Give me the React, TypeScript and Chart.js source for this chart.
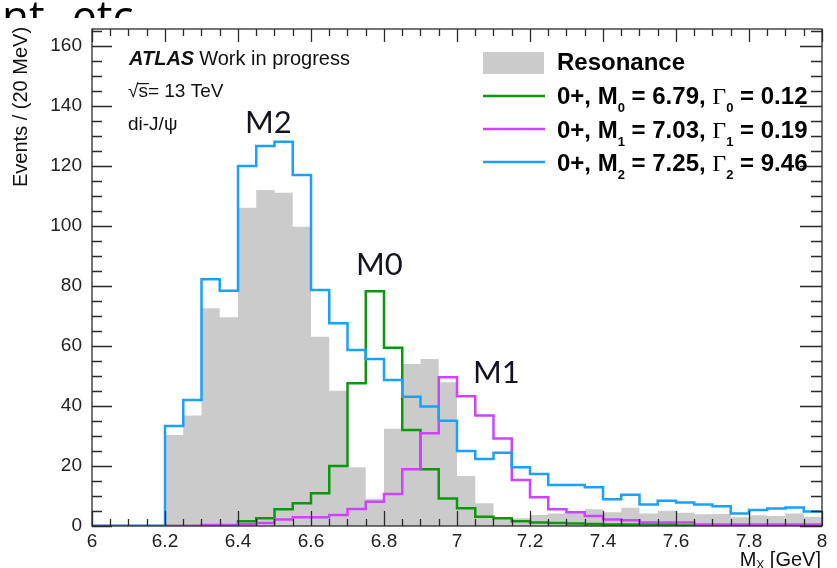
import React, { useEffect, useRef } from "react";
import { Chart, registerables } from "chart.js";

Chart.register(...registerables);

// Bin edges in GeV (40 bins from 6.00 to 8.00)
const binEdges = [
  6.0, 6.05, 6.1, 6.15, 6.2, 6.25, 6.3, 6.35, 6.4, 6.45,
  6.5, 6.55, 6.6, 6.65, 6.7, 6.75, 6.8, 6.85, 6.9, 6.95,
  7.0, 7.05, 7.1, 7.15, 7.2, 7.25, 7.3, 7.35, 7.4, 7.45,
  7.5, 7.55, 7.6, 7.65, 7.7, 7.75, 7.8, 7.85, 7.9, 7.95, 8.0,
];

// Events per bin
const resonance = [
  0, 0, 0, 0, 30.3, 36.8, 72.6, 69.6, 106.1, 112,
  111.1, 99.8, 63.1, 45.1, 19.6, 9.1, 32.4, 54, 55.7, 47.9,
  16.7, 7.6, 2.6, 2.6, 3.7, 4.2, 4.8, 5.6, 4.6, 6.1,
  4.2, 5.1, 4.4, 3.9, 4.0, 2.9, 3.6, 3.3, 4.2, 3.1,
];
const m0 = [
  0, 0, 0, 0, 0, 0, 0, 0, 1.6, 2.6,
  5.6, 7.6, 10.9, 20, 47.6, 78.3, 59.4, 32, 18.9, 9.2,
  5.9, 3.1, 2.6, 1.6, 1.2, 1.0, 0.8, 0.7, 0.5, 0.5,
  0.5, 0.5, 0.2, 0.2, 0.2, 0.2, 0.2, 0.2, 0.2, 0.2,
];
const m1 = [
  0, 0, 0, 0, 0, 0, 0.3, 0.3, 0.6, 1.0,
  2.2, 2.9, 2.9, 3.7, 5.7, 8.1, 10.7, 18.9, 30.9, 49.6,
  43.3, 36.8, 29.2, 15.3, 9.6, 5.6, 4.6, 3.3, 2.2, 1.9,
  1.2, 1.2, 1.2, 0.5, 0.5, 0.5, 0.5, 0.5, 0.5, 0.5,
];
const m2 = [
  0, 0, 0, 0, 33.3, 42, 82.3, 78.4, 120, 126.7,
  128.1, 117, 78.7, 67.6, 58.7, 55.7, 48.7, 43.1, 39.8, 35.1,
  25, 22.3, 24.4, 19.6, 17.3, 13.7, 13.7, 12.9, 8.9, 10.4,
  7.2, 8.4, 7.8, 7.2, 6.6, 4.2, 5.3, 5.8, 6.2, 4.8,
];

const xTicks = [6, 6.2, 6.4, 6.6, 6.8, 7, 7.2, 7.4, 7.6, 7.8, 8];
const yTicks = [0, 20, 40, 60, 80, 100, 120, 140, 160];
const xMinorStep = 0.05;
const yMinorStep = 5;

const legendRows = [
  { sub: "0", mass: "6.79", width: "0.12" },
  { sub: "1", mass: "7.03", width: "0.19" },
  { sub: "2", mass: "7.25", width: "9.46" },
];

const colors = {
  resonance: "#cbcbcb",
  m0: "#0f960f",
  m1: "#cc44ff",
  m2: "#1aa0ff",
};

const SANS = "'Liberation Sans', Arial, sans-serif";

function toSteps(vals: number[]) {
  return binEdges.map((x, i) => ({ x, y: vals[Math.min(i, vals.length - 1)] }));
}

type Part = { t: string; font: string; dy?: number };
function drawRich(ctx: CanvasRenderingContext2D, x: number, y: number, parts: Part[]) {
  let cx = x;
  for (const p of parts) {
    ctx.font = p.font;
    ctx.fillText(p.t, cx, y + (p.dy || 0));
    cx += ctx.measureText(p.t).width;
  }
  return cx;
}

const framePlugin = {
  id: "rootFrame",
  afterDatasetsDraw(chart: any) {
    const { ctx, chartArea: a, scales } = chart;
    const xs = scales.x;
    const ys = scales.y;
    ctx.save();
    ctx.strokeStyle = "#2a2a2a";
    ctx.lineWidth = 1.3;
    ctx.strokeRect(a.left, a.top, a.right - a.left, a.bottom - a.top);
    ctx.beginPath();
    for (let v = 6; v <= 8.0001; v += xMinorStep) {
      const px = Math.round(xs.getPixelForValue(v)) + 0.5;
      const major = Math.abs(v * 5 - Math.round(v * 5)) < 1e-6;
      const lb = major ? 15 : 7;
      const lt = major ? 13 : 7;
      ctx.moveTo(px, a.bottom);
      ctx.lineTo(px, a.bottom - lb);
      ctx.moveTo(px, a.top);
      ctx.lineTo(px, a.top + lt);
    }
    for (let v = 0; v <= ys.max; v += yMinorStep) {
      const py = Math.round(ys.getPixelForValue(v)) + 0.5;
      const major = v % 20 === 0;
      const ll = major ? 20 : 10;
      const lr = major ? 22 : 11;
      ctx.moveTo(a.left, py);
      ctx.lineTo(a.left + ll, py);
      ctx.moveTo(a.right, py);
      ctx.lineTo(a.right - lr, py);
    }
    ctx.stroke();
    ctx.restore();
  },
  afterDraw(chart: any) {
    const { ctx } = chart;
    ctx.save();
    ctx.fillStyle = "#111";
    ctx.textBaseline = "alphabetic";
    ctx.textAlign = "left";

    // slide text clipped at the top
    ctx.save();
    ctx.beginPath();
    ctx.rect(0, 0, 837, 18);
    ctx.clip();
    ctx.fillStyle = "#000";
    ctx.font = "44px 'Open Sans', sans-serif";
    ctx.fillText("nt,", 2, 32);
    ctx.fillText("etc", 72, 32);
    ctx.restore();

    // ATLAS label
    const endA = drawRich(ctx, 129, 65, [{ t: "ATLAS", font: `italic bold 20px ${SANS}` }]);
    drawRich(ctx, endA + 5, 65, [{ t: "Work in progress", font: `20px ${SANS}` }]);
    const sEnd = drawRich(ctx, 128, 97, [{ t: "√", font: `19px ${SANS}` }, { t: "s", font: `19px ${SANS}` }]);
    ctx.font = `19px ${SANS}`;
    const sW = ctx.measureText("s").width;
    ctx.fillRect(sEnd - sW - 1, 83, sW + 2, 1.2);
    drawRich(ctx, sEnd, 97, [{ t: "= 13 TeV", font: `19px ${SANS}` }]);
    drawRich(ctx, 128, 130, [{ t: "di-J/ψ", font: `19px ${SANS}` }]);

    // Legend
    ctx.fillStyle = colors.resonance;
    ctx.fillRect(483, 52, 61, 22);
    const lineCols = [colors.m0, colors.m1, colors.m2];
    const lineYs = [96, 129, 162];
    lineCols.forEach((c, i) => {
      ctx.strokeStyle = c;
      ctx.lineWidth = 2.5;
      ctx.beginPath();
      ctx.moveTo(483, lineYs[i]);
      ctx.lineTo(545, lineYs[i]);
      ctx.stroke();
    });
    ctx.fillStyle = "#000";
    drawRich(ctx, 557, 70, [{ t: "Resonance", font: `bold 24px ${SANS}` }]);
    const B = `bold 24px ${SANS}`;
    const S = `bold 13px ${SANS}`;
    const G = `24px 'Liberation Serif', 'Times New Roman', serif`;
    const baseYs = [104, 137.5, 171];
    legendRows.forEach((r, i) => {
      drawRich(ctx, 557, baseYs[i], [
        { t: "0+, M", font: B },
        { t: r.sub, font: S, dy: 8 },
        { t: " = " + r.mass + ", ", font: B },
        { t: "Γ", font: G },
        { t: r.sub, font: S, dy: 8 },
        { t: " = " + r.width, font: B },
      ]);
    });

    // Axis titles
    ctx.save();
    ctx.translate(27, 187);
    ctx.rotate(-Math.PI / 2);
    ctx.font = `20px ${SANS}`;
    ctx.fillStyle = "#111";
    ctx.fillText("Events / (20 MeV)", 0, 0);
    ctx.restore();

    ctx.fillStyle = "#111";
    ctx.textAlign = "left";
    ctx.font = `20px ${SANS}`;
    const gev = " [GeV]";
    const gW = ctx.measureText(gev).width;
    ctx.font = `12px ${SANS}`;
    const xW = ctx.measureText("X").width;
    ctx.font = `20px ${SANS}`;
    const mW = ctx.measureText("M").width;
    const startX = 821 - gW - xW - mW;
    drawRich(ctx, startX, 566, [
      { t: "M", font: `20px ${SANS}` },
      { t: "X", font: `12px ${SANS}`, dy: 3 },
      { t: gev, font: `20px ${SANS}` },
    ]);

    // Peak annotations
    ctx.fillStyle = "#141420";
    ctx.font = "31px Lato, 'Open Sans', sans-serif";
    ctx.fillText("M2", 245, 133);
    ctx.fillText("M0", 356, 275);
    ctx.fillText("M1", 473, 383);
    ctx.restore();
  },
};

export default function App() {
  const ref = useRef<HTMLCanvasElement | null>(null);
  useEffect(() => {
    if (!ref.current) return;
    const line = (label: string, vals: number[], color: string, order: number) => ({
      label,
      data: toSteps(vals),
      stepped: "before" as const,
      fill: false,
      borderColor: color,
      borderWidth: 2.5,
      pointRadius: 0,
      order,
    });
    const chart = new Chart(ref.current, {
      type: "line",
      data: {
        datasets: [
          {
            label: "Resonance",
            data: toSteps(resonance),
            stepped: "before",
            fill: "origin",
            backgroundColor: colors.resonance,
            borderColor: "rgba(0,0,0,0)",
            borderWidth: 0,
            pointRadius: 0,
            order: 4,
          },
          line("M0", m0, colors.m0, 3),
          line("M1", m1, colors.m1, 2),
          line("M2", m2, colors.m2, 1),
        ] as any,
      },
      options: {
        animation: false,
        responsive: false,
        maintainAspectRatio: false,
        events: [],
        layout: { padding: { left: 0, right: 15, top: 29, bottom: 0 } },
        plugins: { legend: { display: false }, tooltip: { enabled: false } },
        scales: {
          x: {
            type: "linear",
            min: 6,
            max: 8,
            afterFit: (s: any) => {
              s.height = 42;
            },
            afterBuildTicks: (s: any) => {
              s.ticks = xTicks.map((v) => ({ value: v }));
            },
            ticks: {
              autoSkip: false,
              maxRotation: 0,
              padding: 4,
              color: "#222",
              font: { family: "'Liberation Sans', Arial, sans-serif", size: 19 },
              callback: (v: any) => String(Number(Number(v).toFixed(2))),
            },
            grid: { display: false, drawTicks: false },
            border: { display: false },
          },
          y: {
            min: 0,
            max: 165.7,
            afterFit: (s: any) => {
              s.width = 92;
            },
            afterBuildTicks: (s: any) => {
              s.ticks = yTicks.map((v) => ({ value: v }));
            },
            ticks: {
              autoSkip: false,
              padding: 10,
              color: "#222",
              font: { family: "'Liberation Sans', Arial, sans-serif", size: 19 },
            },
            grid: { display: false, drawTicks: false },
            border: { display: false },
          },
        },
      } as any,
      plugins: [framePlugin],
    });
    return () => chart.destroy();
  }, []);
  return (
    <div style={{ position: "fixed", left: 0, top: 0, width: 837, height: 568, background: "#fff" }}>
      <canvas ref={ref} width={837} height={568} style={{ display: "block", width: 837, height: 568 }} />
    </div>
  );
}
